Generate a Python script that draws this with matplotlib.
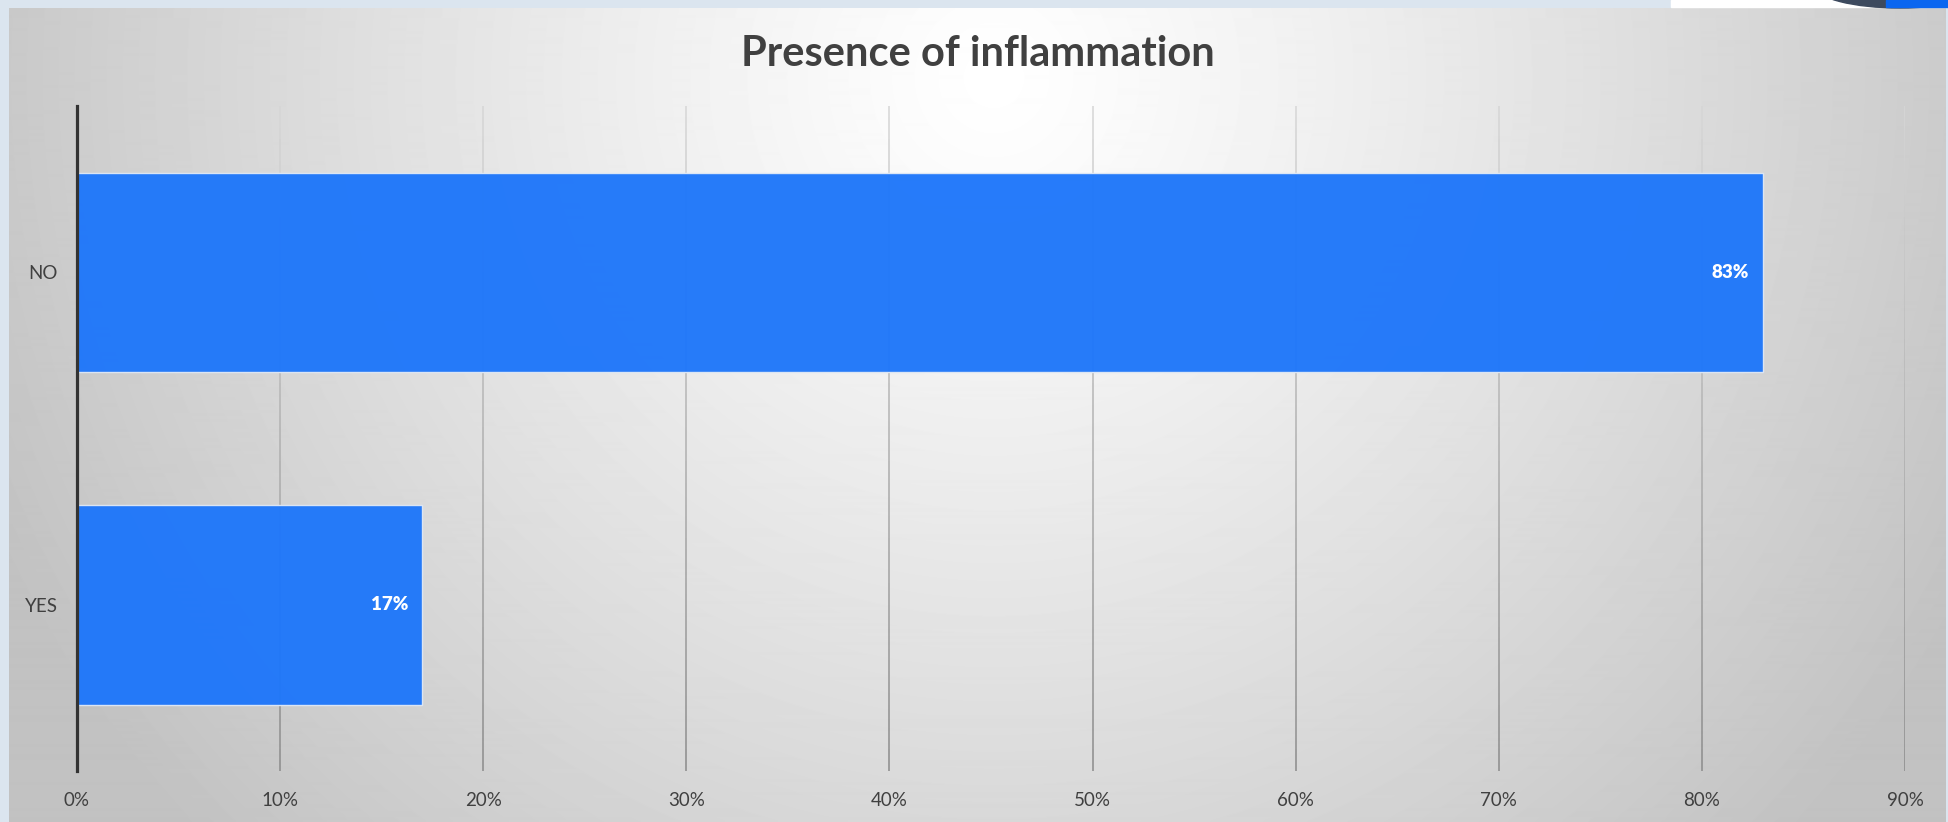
import numpy as np
import matplotlib
matplotlib.use('Agg')
import matplotlib.pyplot as plt
from matplotlib.patches import Rectangle, Ellipse

categories = ['YES', 'NO']
values = [17, 83]
x_ticks = [0, 10, 20, 30, 40, 50, 60, 70, 80, 90]
title = 'Presence of inflammation'

plt.rcParams['font.family'] = ['Lato', 'DejaVu Sans']

W, H = 1948, 822
fig = plt.figure(figsize=(W / 100, H / 100), dpi=100)
fig.patch.set_facecolor('#dbe5ef')

# background panel with radial gradient
bg = fig.add_axes([9 / W, 0, (W - 11) / W, (H - 8) / H])
bg.set_axis_off()
yy, xx = np.mgrid[0:814, 0:1937]
dx = (xx - 985) / 1100.0
dy = (yy - 70) / 1100.0
t = np.clip(np.sqrt(dx ** 2 + dy ** 2), 0, 1)
shade = 1.0 - 0.24 * t ** 1.15
bg.imshow(shade, cmap='gray', vmin=0, vmax=1, aspect='auto',
          extent=[0, 1, 0, 1], origin='upper', interpolation='bilinear')
bg.set_xlim(0, 1)
bg.set_ylim(0, 1)

# top-right corner bits
fig.patches.append(Rectangle((1671 / W, (H - 7) / H), 277 / W, 7 / H,
                             transform=fig.transFigure, color='white', zorder=0))
fig.patches.append(Ellipse((1900 / W, (H + 14) / H), 170 / W, 44 / H,
                           transform=fig.transFigure, color='#3d4a5e', zorder=1))
fig.patches.append(Rectangle((1886 / W, (H - 7) / H), 62 / W, 7 / H,
                             transform=fig.transFigure, color='#0a66f0', zorder=2))

ax = fig.add_axes([77 / W, 51 / H, 1828 / W, 665 / H])
ax.patch.set_alpha(0)

# gridlines that get darker towards the bottom
n_seg = 60
seg_y = np.linspace(1.5, -0.5, n_seg + 1)
for xv in x_ticks[1:]:
    for i in range(n_seg):
        frac = i / n_seg
        c = 0.84 - 0.30 * frac
        ax.plot([xv, xv], [seg_y[i], seg_y[i + 1]], color=(c, c, c),
                linewidth=1.1, solid_capstyle='butt', zorder=1)

pos = np.arange(len(categories))
bars = ax.barh(pos, values, height=0.6, color='#1f77fa', alpha=0.97,
               edgecolor='#dfe8f5', linewidth=1.0, zorder=2)

for p, v in zip(pos, values):
    ax.text(v - 0.7, p, f'{v}%', ha='right', va='center', color='white',
            fontsize=13.5, fontweight='heavy', zorder=3)

ax.set_xlim(0, 90)
ax.set_ylim(-0.5, 1.5)
ax.set_xticks(x_ticks)
ax.set_xticklabels([f'{v}%' for v in x_ticks])
ax.set_yticks(pos)
ax.set_yticklabels(categories)
ax.tick_params(axis='both', length=0, labelsize=13.5, colors='#404040')
ax.tick_params(axis='x', pad=15)
ax.tick_params(axis='y', pad=14)
for s in ['top', 'right', 'bottom']:
    ax.spines[s].set_visible(False)
ax.spines['left'].set_color('#333333')
ax.spines['left'].set_linewidth(2.3)
ax.spines['left'].set_zorder(4)

fig.text(978 / W, 1 - 54 / H, title, ha='center', va='center',
         fontsize=30, fontweight='bold', color='#404040')

fig.savefig('out.png', dpi=100)
